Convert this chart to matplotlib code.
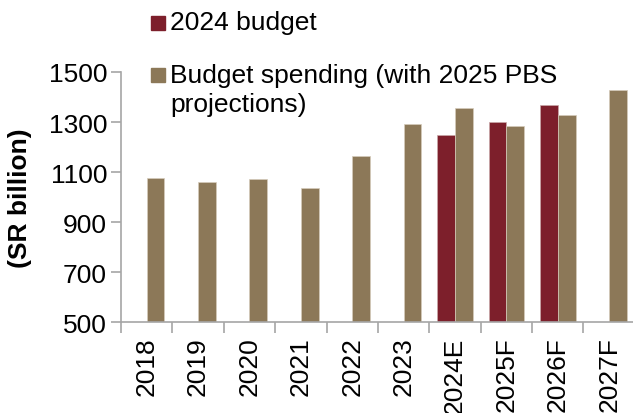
import numpy as np
import matplotlib.pyplot as plt
from matplotlib.patches import Rectangle

# Datos (SR billion)
years = ["2018", "2019", "2020", "2021", "2022", "2023", "2024E", "2025F", "2026F", "2027F"]
budget_2024 = [np.nan, np.nan, np.nan, np.nan, np.nan, np.nan, 1250, 1299, 1367, np.nan]
spending = [1078, 1059, 1074, 1038, 1163, 1291, 1355, 1283, 1327, 1428]

red = "#7D1F2B"
tan = "#8C7858"
grey = "#A6A6A6"
fs = 19

plt.rcParams["font.family"] = ["Liberation Sans", "DejaVu Sans"]

fig = plt.figure(figsize=(6.33, 4.14), dpi=100)
ax = fig.add_axes([0.191, 0.219, 0.812, 0.6047])

x = np.arange(len(years))
w = 0.345
ax.bar(x - w / 2, budget_2024, width=w, color=red, edgecolor="#C9A9A9", linewidth=0.5)
ax.bar(x + w / 2, spending, width=w, color=tan, edgecolor="#D6CCBB", linewidth=0.5)

ax.set_ylim(500, 1500)
ax.set_yticks([500, 700, 900, 1100, 1300, 1500])
ax.set_xlim(-0.5, len(years) - 0.5)
ax.set_xticks(x - 0.5, minor=True)
ax.set_xticks(x)
ax.set_xticklabels(years, rotation=90)
ax.tick_params(axis="x", which="major", length=0, pad=10, labelsize=fs)
ax.tick_params(axis="x", which="minor", length=8, width=1.2, color=grey)
ax.tick_params(axis="y", length=7, width=1.2, color=grey, labelsize=fs, pad=3)

for s in ["top", "right"]:
    ax.spines[s].set_visible(False)
for s in ["left", "bottom"]:
    ax.spines[s].set_color(grey)
    ax.spines[s].set_linewidth(1.2)

fig.text(20 / 633, 1 - 198 / 414, "(SR billion)", rotation=90, fontsize=fs,
         fontweight="bold", ha="center", va="center")

# Leyenda manual
H = 414
fig.patches.append(Rectangle((151 / 633, 1 - 31 / H), 14 / 633, 14 / H,
                             transform=fig.transFigure, color=red))
fig.patches.append(Rectangle((151 / 633, 1 - 83 / H), 14 / 633, 14 / H,
                             transform=fig.transFigure, color=tan))
fig.text(170 / 633, 1 - 30 / H, "2024 budget", fontsize=fs, va="baseline")
fig.text(170 / 633, 1 - 83 / H, "Budget spending (with 2025 PBS", fontsize=fs, va="baseline")
fig.text(170 / 633, 1 - 112 / H, "projections)", fontsize=fs, va="baseline")

fig.savefig("out.png", dpi=100)
